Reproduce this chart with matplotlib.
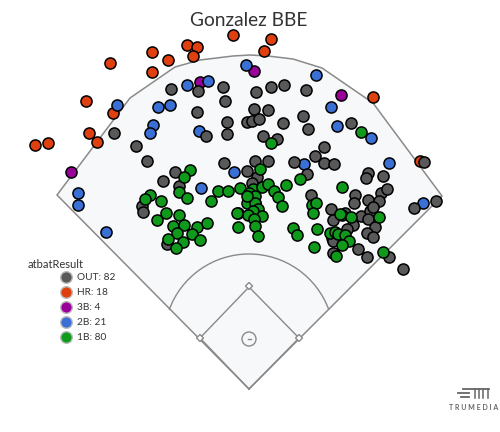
import matplotlib
matplotlib.use("Agg")
import matplotlib.pyplot as plt
from matplotlib.patches import Polygon, Arc, Circle

# spray chart coordinates (chart pixel space, y down)
hr_x = [233, 187, 197, 193, 152, 168, 110, 152, 86, 113, 89, 97, 35, 48, 271, 264, 373, 420]
hr_y = [35, 45, 47, 56, 52, 60, 63, 72, 101, 113, 133, 142, 145, 143, 39, 51, 97, 161]

triple_x = [200, 254, 341, 71]
triple_y = [82, 71, 95, 172]

double_x = [246, 187, 208, 117, 158, 170, 153, 150, 199, 234, 78, 201, 316, 331, 337, 371,
            304, 389, 78, 106, 423]
double_y = [65, 85, 81, 105, 107, 105, 125, 133, 131, 172, 193, 188, 75, 107, 126, 138,
            164, 163, 205, 232, 203]

out_x = [171, 198, 223, 225, 256, 271, 284, 306, 197, 254, 268, 227, 247, 252, 259, 303,
         283, 308, 206, 227, 263, 277, 351, 324, 114, 136, 147, 224, 255, 268, 294, 315,
         324, 334, 247, 257, 252, 175, 163, 179, 142, 143, 167, 307, 311, 368, 366, 383,
         381, 387, 355, 354, 368, 379, 424, 331, 333, 345, 361, 370, 368, 373, 353, 347,
         375, 367, 373, 332, 333, 358, 367, 333, 389, 403, 414, 436, 255, 342]
out_y = [89, 91, 87, 101, 92, 87, 85, 90, 112, 109, 110, 122, 122, 121, 119, 116,
         123, 129, 136, 134, 136, 139, 123, 147, 133, 146, 161, 163, 161, 161, 162, 156,
         163, 164, 171, 177, 183, 172, 181, 186, 206, 212, 244, 174, 195, 173, 178, 176,
         193, 189, 195, 203, 200, 201, 162, 209, 220, 213, 216, 211, 219, 207, 225, 229,
         227, 233, 237, 238, 241, 249, 257, 253, 257, 269, 208, 201, 203, 215]

single_x = [190, 184, 179, 187, 150, 145, 161, 211, 218, 228, 240, 157, 166, 179, 173, 184,
            197, 207, 177, 192, 200, 183, 168, 176, 238, 238, 260, 271, 361, 253, 262, 268,
            274, 278, 282, 286, 300, 249, 255, 247, 255, 258, 253, 248, 262, 254, 255, 258,
            293, 297, 342, 312, 316, 313, 317, 314, 340, 351, 379, 330, 335, 338, 345, 349,
            342, 336, 383, 237, 247]
single_y = [170, 177, 192, 198, 195, 199, 201, 201, 191, 191, 188, 220, 213, 215, 226, 225,
            227, 223, 233, 234, 240, 242, 239, 248, 213, 227, 169, 143, 132, 189, 187, 184,
            191, 197, 206, 185, 179, 193, 196, 203, 203, 209, 211, 215, 216, 219, 226, 236,
            228, 235, 187, 205, 203, 213, 229, 247, 214, 217, 217, 233, 232, 234, 235, 241,
            245, 256, 252, 213, 196]

legend_names = ["OUT", "HR", "3B", "2B", "1B"]
legend_counts = [82, 18, 4, 21, 80]
colors = {"OUT": "#595959", "HR": "#e0400f", "3B": "#990099", "2B": "#3a6fd6", "1B": "#0f9a1c"}

# field outline
home = (249, 389)
fence = [(57, 195), (130, 98), (175, 67), (200, 60), (233, 56), (250, 55), (268, 56),
         (293, 59), (322, 68), (373, 103), (442, 196)]

fig = plt.figure(figsize=(5, 4.32), dpi=100)
ax = fig.add_axes([0, 0, 1, 1])
ax.set_xlim(0, 500)
ax.set_ylim(432, 0)
ax.axis("off")

line_c = "#8a8a8a"
ax.add_patch(Polygon([home] + fence, closed=True, facecolor="#f7f8fa", edgecolor=line_c,
                     lw=1.1, zorder=1))
ax.add_patch(Arc((249, 339), 170, 170, theta1=-160, theta2=-20, color=line_c, lw=1.0, zorder=2))
diamond = [(249, 389), (299, 338), (249, 287), (200, 338), (249, 389)]
ax.plot([p[0] for p in diamond], [p[1] for p in diamond], color=line_c, lw=1.0, zorder=2)
for bx, by in [(299, 338), (249, 286), (200, 338)]:
    d = 3.5
    ax.add_patch(Polygon([(bx, by - d), (bx + d, by), (bx, by + d), (bx - d, by)], closed=True,
                         facecolor="white", edgecolor=line_c, lw=1.0, zorder=3))
ax.add_patch(Circle((249, 339), 7, facecolor="none", edgecolor=line_c, lw=1.0, zorder=3))
ax.plot([247.5, 250.5], [339, 339], color=line_c, lw=1.0, zorder=3)

sz = 64
kw = dict(s=sz, edgecolors="black", linewidths=1.1)
ax.scatter(hr_x, hr_y, c=colors["HR"], zorder=4, **kw)
ax.scatter(triple_x, triple_y, c=colors["3B"], zorder=5, **kw)
ax.scatter(double_x, double_y, c=colors["2B"], zorder=6, **kw)
ax.scatter(out_x, out_y, c=colors["OUT"], zorder=7, **kw)
ax.scatter(single_x, single_y, c=colors["1B"], zorder=8, **kw)

ax.text(249, 20, "Gonzalez BBE", ha="center", va="center", fontsize=13.8, family="Lato",
        color="#333333")

# legend
ax.text(28, 264, "atbatResult", ha="left", va="center", fontsize=8, family="Lato", color="#333333")
for i, (name, n) in enumerate(zip(legend_names, legend_counts)):
    yy = 277 + 15 * i
    ax.scatter([66], [yy], s=70, c=colors[name], edgecolors="#bbbbbb", linewidths=1.0, zorder=9)
    ax.text(77, yy + 0.5, f"{name}: {n}", ha="left", va="center", fontsize=7.3, family="Lato",
            color="#333333")

# TruMedia mark
lc = "#666666"
ax.plot([458, 469], [393, 393], color=lc, lw=1.3)
ax.plot([461, 469], [396.5, 396.5], color=lc, lw=1.3)
ax.plot([463, 489], [389, 389], color=lc, lw=1.3)
for vx in [475, 479, 483, 488]:
    ax.plot([vx, vx], [389, 398], color=lc, lw=1.1)
ax.text(474, 407, "T R U M E D I A", ha="center", va="center", fontsize=5, family="Lato",
        color=lc, fontweight="bold")

fig.savefig("out.png", dpi=100)
